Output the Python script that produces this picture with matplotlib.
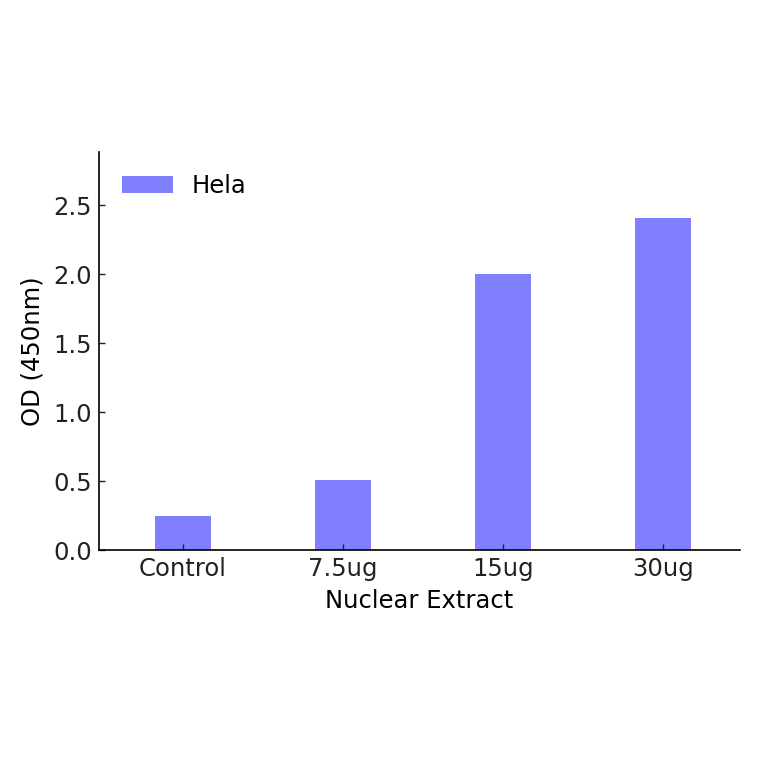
import numpy as np
import matplotlib
matplotlib.use("Agg")
from matplotlib import pyplot as plt

# data
categories = ["Control", "7.5ug", "15ug", "30ug"]
hela_od = [0.25, 0.51, 2.00, 2.41]

plt.rcParams['font.family'] = ['DejaVu Sans']
fs = 17.5

fig = plt.figure(figsize=(7.64, 7.64), dpi=100)
ax = fig.add_axes([99/764., 1 - 550/764., (740-99)/764., (550-152)/764.])

x = np.arange(len(categories))
ax.bar(x, hela_od, width=0.35, color='#8080ff', edgecolor='none', label='Hela')

ax.set_xlim(-0.525, 3.48)
ax.set_ylim(0, 2.885)
ax.set_xticks(x)
ax.set_xticklabels(categories)
ax.set_yticks([0.0, 0.5, 1.0, 1.5, 2.0, 2.5])
ax.set_yticklabels(['0.0', '0.5', '1.0', '1.5', '2.0', '2.5'])

ax.spines['top'].set_visible(False)
ax.spines['right'].set_visible(False)
ax.tick_params(direction='in', length=4, width=1, top=False, right=False, colors='#222222', labelsize=fs, pad=5)
for s in ['left', 'bottom']:
    ax.spines[s].set_linewidth(1.2)

ax.set_xlabel('Nuclear Extract', fontsize=fs, labelpad=6)
ax.set_ylabel('OD (450nm)', fontsize=fs, labelpad=6)

ax.legend(loc='upper left', frameon=False, fontsize=fs, handlelength=2.1, handleheight=0.7,
          handletextpad=0.8, bbox_to_anchor=(0.02, 0.97), borderaxespad=0)

fig.savefig('out.png', dpi=100)
